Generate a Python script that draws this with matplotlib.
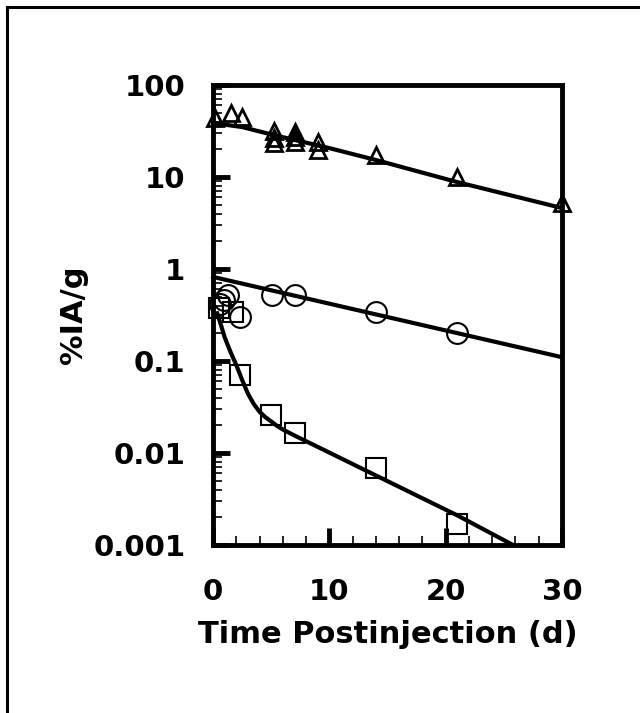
# -*- coding: utf-8 -*-
import numpy as np
import matplotlib
matplotlib.use('Agg')
import matplotlib.pyplot as plt
from matplotlib.lines import Line2D
from matplotlib.ticker import LogLocator, MultipleLocator, FixedFormatter, FixedLocator

plt.rcParams['font.family'] = ['DejaVu Sans']
plt.rcParams['font.weight'] = 'bold'

# triangles (upper series)
tri_x = [0.2, 1.5, 2.5, 5.2, 5.2, 5.2, 7.0, 7.0, 7.0, 9.0, 9.0, 14.0, 21.0, 30.0]
tri_y = [44, 49, 45, 32, 26.5, 23.5, 31, 27, 24, 24, 19.6, 17.3, 10, 5.2]
tri_fit_x = [0.0, 2.5, 5.2, 10.0, 14.0, 21.0, 30.0]
tri_fit_y = [38.6, 34.9, 28.6, 20.6, 15.3, 8.8, 4.6]

# circles (middle series)
circ_x = [0.6, 0.9, 1.3, 2.3, 5.1, 7.0, 14.0, 21.0]
circ_y = [0.42, 0.46, 0.52, 0.30, 0.52, 0.52, 0.34, 0.20]
circ_fit_x = [0.0, 30.0]
circ_fit_y = [0.82, 0.11]

# squares (lower series)
sq_x = [0.5, 1.7, 2.3, 5.0, 7.0, 14.0, 21.0]
sq_y = [0.38, 0.34, 0.071, 0.026, 0.0166, 0.0068, 0.0017]
sq_fit_x = [0.35, 0.7, 1.0, 1.5, 2.0, 2.5, 3.0, 3.5, 4.0, 4.5, 5.0, 5.5, 6.0, 7.0, 14.0, 21.0, 25.8]
sq_fit_y = [0.33, 0.24, 0.18, 0.125, 0.09, 0.062, 0.044, 0.034, 0.028, 0.0245, 0.022, 0.0197, 0.018, 0.0155,
            0.0057, 0.0021, 0.001]

fig = plt.figure(figsize=(6.4, 7.13), dpi=100)
ax = fig.add_axes([0.333, 0.2356, 0.545, 0.6452])

lw_fit = 3.0
ax.plot(tri_fit_x, tri_fit_y, '-k', lw=lw_fit, clip_on=False)
ax.plot(circ_fit_x, circ_fit_y, '-k', lw=lw_fit, clip_on=False)
ax.plot(sq_fit_x, sq_fit_y, '-k', lw=lw_fit, clip_on=False)

ax.plot(tri_x, tri_y, '^', ms=12, mfc='none', mec='k', mew=2.0, clip_on=False)
ax.plot(circ_x, circ_y, 'o', ms=15, mfc='none', mec='k', mew=1.5, clip_on=False)
ax.plot(sq_x, sq_y, 's', ms=14, mfc='none', mec='k', mew=1.5, clip_on=False)

ax.set_yscale('log')
ax.set_ylim(0.001, 100)
ax.set_xlim(0, 30)

ax.xaxis.set_major_locator(MultipleLocator(10))
ax.xaxis.set_minor_locator(MultipleLocator(2))
ax.yaxis.set_major_locator(FixedLocator([0.001, 0.01, 0.1, 1, 10, 100]))
ax.yaxis.set_major_formatter(FixedFormatter(['0.001', '0.01', '0.1', '1', '10', '100']))
ax.yaxis.set_minor_locator(LogLocator(base=10, subs=np.arange(2, 10)))

ax.tick_params(which='major', direction='in', length=12, width=3.5, labelsize=21)
ax.tick_params(which='minor', direction='in', length=6.5, width=1.2)
ax.tick_params(axis='x', which='major', pad=24)
ax.tick_params(axis='y', which='major', pad=20)
ax.tick_params(top=False, right=False, which='both')
for lab in ax.get_xticklabels() + ax.get_yticklabels():
    lab.set_fontweight('bold')

for s in ax.spines.values():
    s.set_linewidth(3.5)

ax.set_xlabel('Time Postinjection (d)', fontsize=22, fontweight='bold', labelpad=10)
ax.set_ylabel('%IA/g', fontsize=22, fontweight='bold', labelpad=4)

# outer frame lines (left and top)
fig.add_artist(Line2D([7 / 640, 7 / 640], [0, 1 - 7 / 713], transform=fig.transFigure, color='k', lw=2.2))
fig.add_artist(Line2D([7 / 640, 1], [1 - 7 / 713, 1 - 7 / 713], transform=fig.transFigure, color='k', lw=2.2))

plt.savefig('out.png', dpi=100)
